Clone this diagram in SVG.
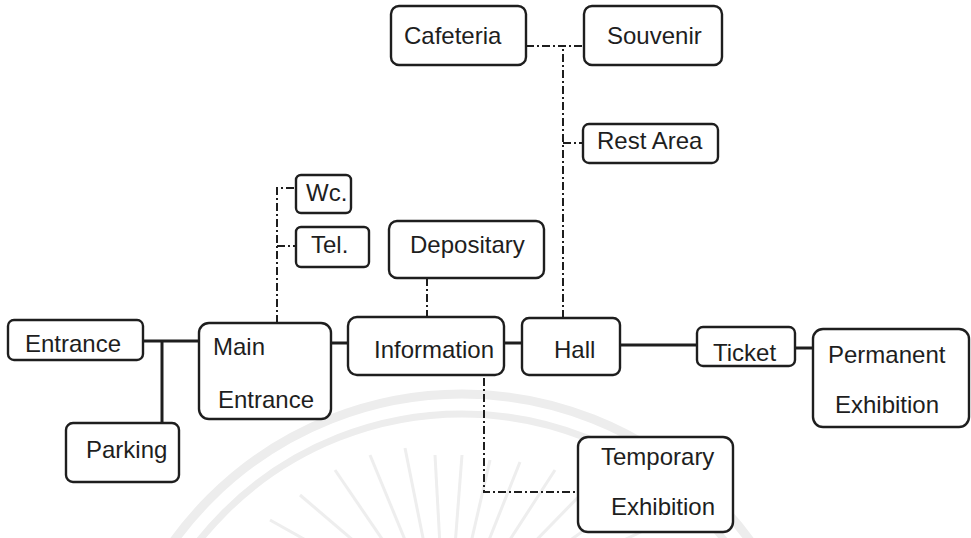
<svg xmlns="http://www.w3.org/2000/svg" width="971" height="538" viewBox="0 0 971 538">
  <style>
    .box { fill: #ffffff; stroke: #1e1e1e; stroke-width: 2.4; }
    .lbl { font-family: "Liberation Sans", Arial, sans-serif; font-size: 24px; fill: #1e1e1e; }
    .solid { fill: none; stroke: #1e1e1e; stroke-width: 3; }
    .dd { fill: none; stroke: #1e1e1e; stroke-width: 2; stroke-dasharray: 8 3 2 3; }
    .wm { fill: none; stroke: #ededed; }
  </style>

  <rect width="971" height="538" fill="#ffffff"/>

  <!-- faint seal in the background -->
  <g id="seal">
    <circle class="wm" cx="462" cy="750" r="356" stroke-width="9"/>
    <circle class="wm" cx="462" cy="750" r="336" stroke-width="7"/>
    <g stroke="#eeeeee" stroke-width="3">
      <line x1="382" y1="565" x2="300" y2="495"/>
      <line x1="395" y1="558" x2="335" y2="470"/>
      <line x1="410" y1="552" x2="370" y2="455"/>
      <line x1="425" y1="548" x2="405" y2="448"/>
      <line x1="440" y1="546" x2="435" y2="455"/>
      <line x1="455" y1="546" x2="462" y2="455"/>
      <line x1="470" y1="547" x2="490" y2="460"/>
      <line x1="485" y1="550" x2="520" y2="462"/>
      <line x1="500" y1="555" x2="555" y2="470"/>
      <line x1="515" y1="562" x2="590" y2="485"/>
      <line x1="368" y1="575" x2="270" y2="520"/>
      <line x1="528" y1="570" x2="620" y2="505"/>
      <line x1="355" y1="588" x2="240" y2="540"/>
      <line x1="540" y1="580" x2="645" y2="530"/>
    </g>
  </g>

  <!-- connectors -->
  <g id="connectors">
    <line class="solid" x1="143" y1="341" x2="199" y2="341"/>
    <line class="solid" x1="162" y1="341" x2="162" y2="423"/>
    <line class="solid" x1="331" y1="343" x2="348" y2="343"/>
    <line class="solid" x1="504" y1="343" x2="522" y2="343"/>
    <line class="solid" x1="620" y1="345" x2="697" y2="345"/>
    <line class="solid" x1="795" y1="348" x2="813" y2="348"/>

    <path class="dd" d="M277 323 V188 H296"/>
    <path class="dd" d="M277 246 H296"/>
    <path class="dd" d="M427 278 V317"/>
    <path class="dd" d="M563 318 V46"/>
    <path class="dd" d="M526 46 H584"/>
    <path class="dd" d="M563 143 H583"/>
    <path class="dd" d="M484 362 V492 H578"/>
  </g>

  <g id="entrance">
    <rect class="box" x="8" y="320" width="135" height="40" rx="6"/>
    <text class="lbl" x="25" y="352">Entrance</text>
  </g>
  <g id="parking">
    <rect class="box" x="66" y="423" width="113" height="59" rx="7"/>
    <text class="lbl" x="86" y="458">Parking</text>
  </g>
  <g id="main-entrance">
    <rect class="box" x="199" y="323" width="132" height="96" rx="10"/>
    <text class="lbl" x="213" y="355">Main</text>
    <text class="lbl" x="218" y="408">Entrance</text>
  </g>
  <g id="wc">
    <rect class="box" x="296" y="175" width="55" height="38" rx="5"/>
    <text class="lbl" x="306" y="201">Wc.</text>
  </g>
  <g id="tel">
    <rect class="box" x="296" y="227" width="73" height="40" rx="5"/>
    <text class="lbl" x="311" y="253">Tel.</text>
  </g>
  <g id="depositary">
    <rect class="box" x="389" y="221" width="155" height="57" rx="8"/>
    <text class="lbl" x="410" y="253">Depositary</text>
  </g>
  <g id="information">
    <rect class="box" x="348" y="317" width="156" height="58" rx="9"/>
    <text class="lbl" x="374" y="358">Information</text>
  </g>
  <g id="hall">
    <rect class="box" x="522" y="318" width="98" height="57" rx="7"/>
    <text class="lbl" x="554" y="358">Hall</text>
  </g>
  <g id="ticket">
    <rect class="box" x="697" y="327" width="98" height="39" rx="6"/>
    <text class="lbl" x="713" y="361">Ticket</text>
  </g>
  <g id="permanent-exhibition">
    <rect class="box" x="813" y="329" width="156" height="98" rx="10"/>
    <text class="lbl" x="828" y="363">Permanent</text>
    <text class="lbl" x="835" y="413">Exhibition</text>
  </g>
  <g id="temporary-exhibition">
    <rect class="box" x="578" y="437" width="155" height="95" rx="10"/>
    <text class="lbl" x="601" y="465">Temporary</text>
    <text class="lbl" x="611" y="515">Exhibition</text>
  </g>
  <g id="cafeteria">
    <rect class="box" x="391" y="6" width="135" height="59" rx="8"/>
    <text class="lbl" x="404" y="44">Cafeteria</text>
  </g>
  <g id="souvenir">
    <rect class="box" x="584" y="6" width="138" height="59" rx="8"/>
    <text class="lbl" x="607" y="44">Souvenir</text>
  </g>
  <g id="rest-area">
    <rect class="box" x="583" y="124" width="135" height="39" rx="6"/>
    <text class="lbl" x="597" y="149">Rest Area</text>
  </g>
</svg>
